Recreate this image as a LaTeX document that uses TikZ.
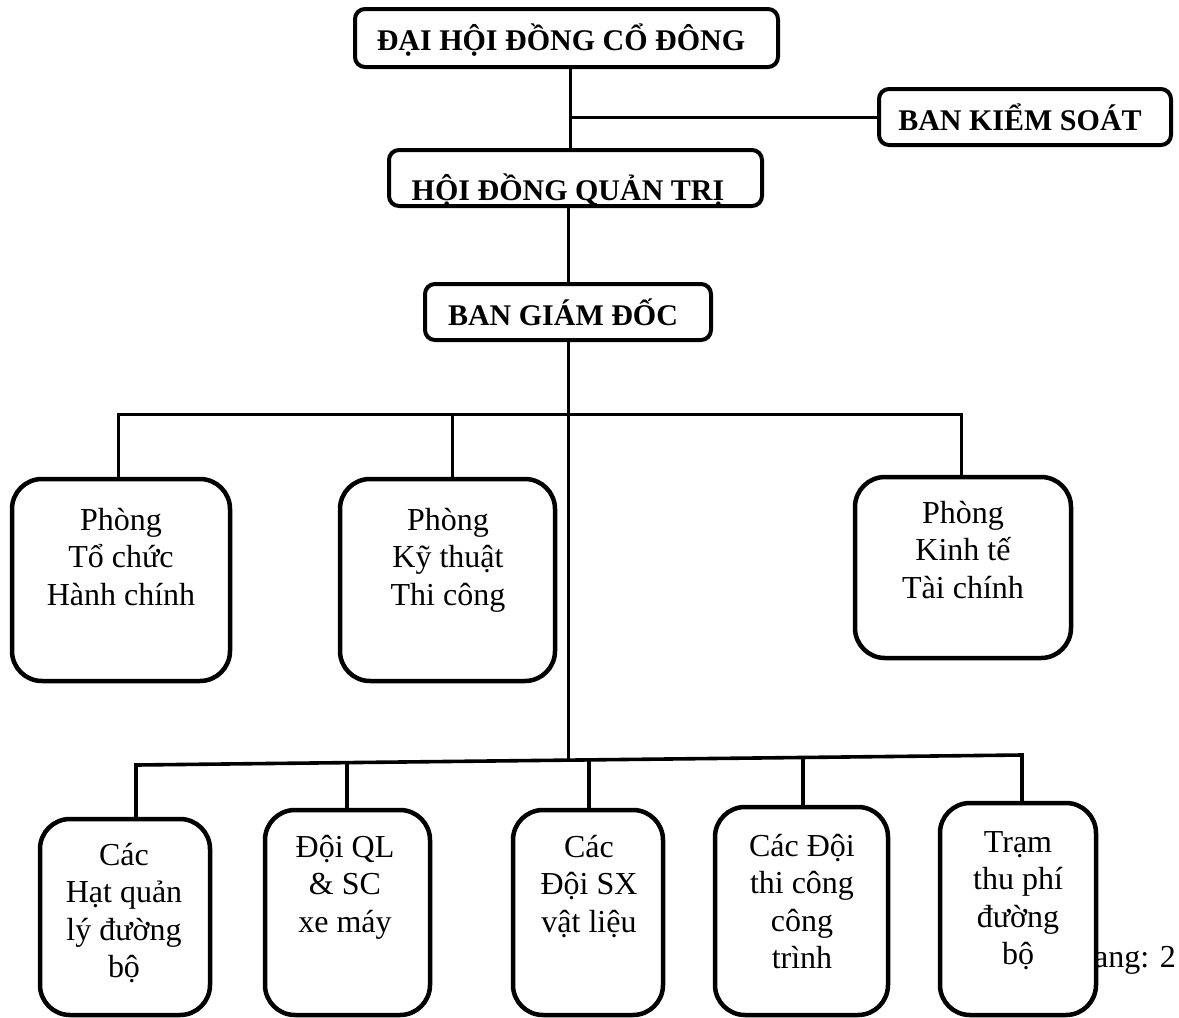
\documentclass[tikz,border=0pt]{standalone}
\usepackage{fontspec}
\setmainfont{Liberation Serif}
\pgfdeclarelayer{bg}
\pgfsetlayers{bg,main}
\begin{document}
\begin{tikzpicture}[x=1pt,y=-1pt,
  hbox/.style={draw, line width=4pt, rounded corners=10pt, fill=white, inner sep=0pt, outer sep=0pt},
  bbox/.style={draw, line width=4.5pt, rounded corners=30pt, fill=white, inner sep=0pt, outer sep=0pt},
  conn/.style={line width=3pt},
  connb/.style={line width=3.6pt},
  htext/.style={font=\fontsize{30}{36}\selectfont\bfseries, anchor=base, inner sep=0pt},
  btext/.style={font=\fontsize{32}{37.5}\selectfont, align=center, anchor=north, inner sep=0pt}]
\useasboundingbox (0,0) rectangle (1179,1018);
% header boxes
\node[hbox, minimum width=423pt, minimum height=58pt] (dh) at (566.5,38) {};
\node[hbox, minimum width=292pt, minimum height=56pt] (bks) at (1025,117) {};
\node[hbox, minimum width=373pt, minimum height=56pt] (hd) at (575.5,178) {};
\node[hbox, minimum width=286pt, minimum height=56pt] (bgd) at (568,312) {};
\node[htext] (tdh) at (561,50) {ĐẠI HỘI ĐỒNG CỔ ĐÔNG};
\node[htext] (tbks) at (1020,130) {BAN KIỂM SOÁT};
\node[htext] (thd) at (568,200) {HỘI ĐỒNG QUẢN TRỊ};
\node[htext] (tbgd) at (563,325) {BAN GIÁM ĐỐC};
% departments
\node[bbox, minimum width=218pt, minimum height=202pt] (b1) at (121,580) {};
\node[bbox, minimum width=215pt, minimum height=202pt] (b2) at (447.5,580) {};
\node[bbox, minimum width=216pt, minimum height=181pt] (b3) at (963,567.5) {};
\node[btext] (t1) at (121,500) {\rule{0pt}{30pt}Phòng\\Tổ chức\\Hành chính};
\node[btext] (t2) at (448,500) {\rule{0pt}{30pt}Phòng\\Kỹ thuật\\Thi công};
\node[btext] (t3) at (963,493) {\rule{0pt}{30pt}Phòng\\Kinh tế\\Tài chính};
% page number fragment
\node[font=\fontsize{32}{37.5}\selectfont, anchor=base east, inner sep=0pt] (pg) at (1176,967) {ang: 2};
% units
\node[bbox, minimum width=170pt, minimum height=196pt] (b4) at (125,917) {};
\node[bbox, minimum width=165pt, minimum height=205pt] (b5) at (347.5,912.5) {};
\node[bbox, minimum width=150pt, minimum height=205pt] (b6) at (588,912.5) {};
\node[bbox, minimum width=173pt, minimum height=208pt] (b7) at (801.5,911) {};
\node[bbox, minimum width=156pt, minimum height=212pt] (b8) at (1018,909) {};
\node[btext] (t4) at (124,835) {\rule{0pt}{30pt}Các\\Hạt quản\\lý đường\\bộ};
\node[btext] (t5) at (345,827) {\rule{0pt}{30pt}Đội QL\\\& SC\\xe máy};
\node[btext] (t6) at (589,827) {\rule{0pt}{30pt}Các\\Đội SX\\vật liệu};
\node[btext] (t7) at (802,826) {\rule{0pt}{30pt}Các Đội\\thi công\\công\\trình};
\node[btext] (t8) at (1018,822) {\rule{0pt}{30pt}Trạm\\thu phí\\đường\\bộ};
% junction coordinates
\coordinate (jA) at (570,117);
\coordinate (jB) at (568,414);
\coordinate (busL) at (118,414);
\coordinate (bus2) at (452,414);
\coordinate (busR) at (961,414);
\coordinate (lbL) at (136,765);
\coordinate (lb5) at (347,762.6);
\coordinate (jC) at (568,760.1);
\coordinate (lb6) at (589,759.9);
\coordinate (lb7) at (803,757.5);
\coordinate (lbR) at (1022,755);
\begin{pgfonlayer}{bg}
\draw[conn] (dh.south -| jA) -- (hd.north -| jA);
\draw[conn] (jA) -- (bks.west);
\draw[conn] (hd.south -| jB) -- (bgd.north -| jB);
\draw[conn] (bgd.south -| jB) -- (jC);
\draw[conn] (b1.north -| busL) -- (busL) -- (busR) -- (b3.north -| busR);
\draw[conn] (bus2) -- (b2.north -| bus2);
\draw[connb] (b4.north -| lbL) -- (lbL) -- (lbR) -- (b8.north -| lbR);
\draw[connb] (lb5) -- (b5.north -| lb5);
\draw[connb] (lb6) -- (b6.north -| lb6);
\draw[connb] (lb7) -- (b7.north -| lb7);
\end{pgfonlayer}
\end{tikzpicture}
\end{document}
